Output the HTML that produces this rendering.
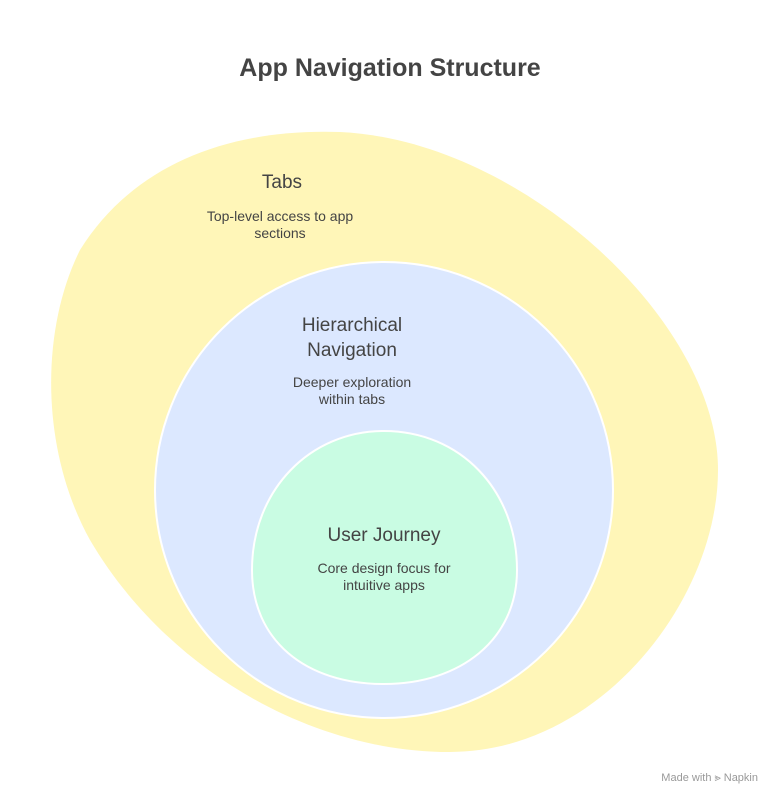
<!DOCTYPE html>
<html><head><meta charset="utf-8"><style>
body{margin:0;background:#fff;width:780px;height:803px;overflow:hidden;font-family:"Liberation Sans",sans-serif;}
</style></head><body>
<svg width="780" height="803" viewBox="0 0 780 803" xmlns="http://www.w3.org/2000/svg">
<text x="390" y="76" text-anchor="middle" font-family="Liberation Sans, sans-serif" font-weight="bold" font-size="25" fill="#444">App Navigation Structure</text>
<path d="M 340 132 C 520 140 718 320 718 470 C 718 600 600 752 450 752 C 300 752 160 660 90 540 C 40 450 40 330 80 250 C 130 170 220 128 340 132 Z" fill="#fff6b8"/>
<ellipse cx="384" cy="490" rx="229" ry="228" fill="#dce8ff" stroke="#fff" stroke-width="2"/>
<path d="M 384 431 C 460 431 517 490 517 570 C 517 640 460 684 384 684 C 305 684 252 640 252 570 C 252 490 310 431 384 431 Z" fill="#c9fce3" stroke="#fff" stroke-width="2"/>
<g font-family="Liberation Sans, sans-serif" fill="#444" text-anchor="middle">
<text x="282" y="188" font-size="19">Tabs</text>
<text x="280" y="221" font-size="14">Top-level access to app</text>
<text x="280" y="238" font-size="14">sections</text>
<text x="352" y="331" font-size="19">Hierarchical</text>
<text x="352" y="356" font-size="19">Navigation</text>
<text x="352" y="387" font-size="14">Deeper exploration</text>
<text x="352" y="404" font-size="14">within tabs</text>
<text x="384" y="541" font-size="19">User Journey</text>
<text x="384" y="573" font-size="14">Core design focus for</text>
<text x="384" y="590" font-size="14">intuitive apps</text>
</g>
<text x="758" y="781" text-anchor="end" font-family="Liberation Sans, sans-serif" font-size="11" fill="#999">Made with ⪢ Napkin</text>
</svg>
</body></html>
